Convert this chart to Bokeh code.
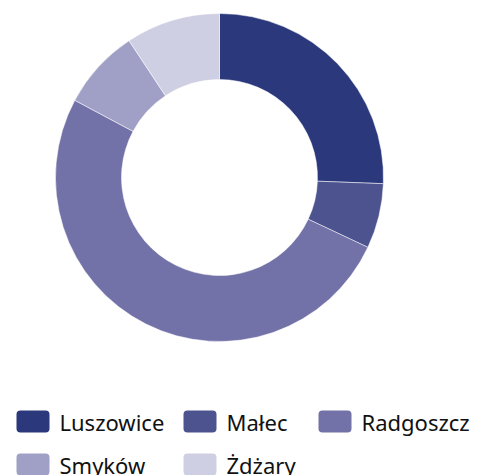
import math
from bokeh.plotting import figure
from bokeh.models import Range1d, ColumnDataSource
from bokeh.core.properties import value
from bokeh.embed import file_html
from bokeh.resources import INLINE

categories = ["Luszowice", "Małec", "Radgoszcz", "Smyków", "Żdżary"]
shares = [25.6, 6.4, 50.8, 7.9, 9.3]
colors = ["#2b387c", "#4d538f", "#7372a8", "#a09fc6", "#cfcfe3"]

W, H = 488, 475
p = figure(width=W, height=H, output_backend="svg", toolbar_location=None,
           x_range=Range1d(0, W), y_range=Range1d(0, H),
           min_border=0, outline_line_color=None)
p.axis.visible = False
p.grid.visible = False
p.background_fill_color = "white"

# donut (page coords: y_data = H - page_y)
cx, cy = 219, H - 177
total = sum(shares)
starts, ends = [], []
a = math.pi / 2
for s in shares:
    starts.append(a)
    a -= 2 * math.pi * s / total
    ends.append(a)
src = ColumnDataSource(dict(start=starts, end=ends, color=colors, name=categories))
p.annular_wedge(x=cx, y=cy, inner_radius=98, outer_radius=164,
                start_angle="start", end_angle="end", direction="clock",
                fill_color="color", line_color="white", line_width=0.5, source=src)

# legend layout
col_x = [16, 183, 318]
row_y = [421, 464]
lx, ly = [], []
for i in range(len(categories)):
    r, c = divmod(i, 3)
    lx.append(col_x[c])
    ly.append(H - row_y[r])
lsrc = ColumnDataSource(dict(
    left=lx, right=[x + 33 for x in lx],
    top=[y + 11 for y in ly], bottom=[y - 11 for y in ly],
    tx=[x + 43 for x in lx], ty=ly, color=colors, name=categories))
p.quad(left="left", right="right", top="top", bottom="bottom",
       fill_color="color", line_color=None, border_radius=4, source=lsrc)
p.text(x="tx", y="ty", text="name", source=lsrc, text_baseline="middle",
       text_font=value("Noto Sans"), text_font_size="22px", text_color="#111111")

open("out.html", "w").write(file_html(p, INLINE))
